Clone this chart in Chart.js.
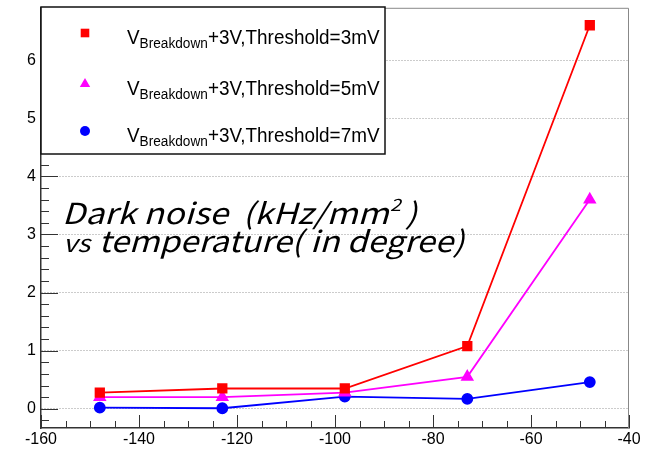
<!DOCTYPE html>
<html>
<head>
<meta charset="utf-8">
<script src="https://cdn.jsdelivr.net/npm/chart.js@4.4.1/dist/chart.umd.min.js"></script>
<style>
  html, body { margin: 0; padding: 0; background: #fff; }
</style>
</head>
<body>
<canvas id="myChart" width="661" height="449"></canvas>
<script>
// temperature in degree (C) and dark noise in kHz/mm2
const temperatures = [-148, -123, -98, -73, -48];
const threshold3mV = [0.28, 0.35, 0.35, 1.08, 6.6];
const threshold5mV = [0.2, 0.2, 0.28, 0.55, 3.6];
const threshold7mV = [0.02, 0.01, 0.21, 0.17, 0.46];
const seriesNames = ["+3V,Threshold=3mV", "+3V,Threshold=5mV", "+3V,Threshold=7mV"];
const xTickLabels = [-160, -140, -120, -100, -80, -60, -40];
const yTickLabels = [0, 1, 2, 3, 4, 5, 6];

const toPoints = (values) => values.map((v, i) => ({x: temperatures[i], y: v}));

const colors = ["#ff0000", "#ff00ff", "#0000ff"];
const styles = ["rect", "triangle", "circle"];
const radii = [6, 6, 5];

function drawMarker(ctx, style, color, x, y) {
    ctx.fillStyle = color;
    ctx.beginPath();
    if (style === "rect") {
        ctx.rect(x - 4.3, y - 4.3, 8.6, 8.6);
    } else if (style === "triangle") {
        ctx.moveTo(x, y - 6);
        ctx.lineTo(x + 5.2, y + 3);
        ctx.lineTo(x - 5.2, y + 3);
        ctx.closePath();
    } else {
        ctx.arc(x, y, 5, 0, Math.PI * 2);
    }
    ctx.fill();
}

// no extra padding from tick labels, so the plot frame sits where we want it
function noPadding(s) {
    s.paddingTop = 0;
    s.paddingBottom = 0;
    s.paddingLeft = 0;
    s.paddingRight = 0;
}

const decorations = {
    id: "decorations",
    afterDraw(chart) {
        const ctx = chart.ctx;
        const area = chart.chartArea;
        const xs = chart.scales.x;
        const ys = chart.scales.y;
        ctx.save();

        // top / right frame
        ctx.strokeStyle = "#888";
        ctx.lineWidth = 1;
        ctx.beginPath();
        ctx.moveTo(area.left, area.top + 0.5);
        ctx.lineTo(area.right - 0.5, area.top + 0.5);
        ctx.lineTo(area.right - 0.5, area.bottom);
        ctx.stroke();

        // inward ticks (ROOT style)
        ctx.strokeStyle = "#333";
        ctx.beginPath();
        for (let v = -160; v <= -40; v += 5) {
            const px = Math.round(xs.getPixelForValue(v)) + 0.5;
            const len = v % 20 === 0 ? 13 : 7;
            ctx.moveTo(px, area.bottom);
            ctx.lineTo(px, area.bottom - len);
        }
        for (let k = -1; k <= 34; k++) {
            const v = k * 0.2;
            const py = Math.round(ys.getPixelForValue(v)) + 0.5;
            if (py < area.top || py > area.bottom) continue;
            const len = k % 5 === 0 ? 17 : 8;
            ctx.moveTo(area.left, py);
            ctx.lineTo(area.left + len, py);
        }
        ctx.stroke();

        // legend box
        ctx.fillStyle = "#fff";
        ctx.fillRect(41, 7, 344, 147);
        ctx.strokeStyle = "#111";
        ctx.lineWidth = 1.5;
        ctx.strokeRect(41, 7, 344, 147);
        const rowY = [33, 84, 131];
        seriesNames.forEach((name, i) => {
            drawMarker(ctx, styles[i], colors[i], 85, rowY[i]);
            ctx.save();
            ctx.translate(127, rowY[i] + 11);
            ctx.scale(1.05, 1.12);
            ctx.fillStyle = "#000";
            ctx.textBaseline = "alphabetic";
            ctx.font = '18px "Liberation Sans"';
            ctx.fillText("V", 0, 0);
            let w = ctx.measureText("V").width;
            ctx.font = '13px "Liberation Sans"';
            ctx.fillText("Breakdown", w, 4);
            w += ctx.measureText("Breakdown").width;
            ctx.font = '18px "Liberation Sans"';
            ctx.fillText(name, w, 0);
            ctx.restore();
        });

        // title text inside the plot
        ctx.fillStyle = "#000";
        ctx.textBaseline = "alphabetic";
        const big = 'italic 29px "Noto Sans CJK KR"';
        ctx.save();
        ctx.translate(62, 224);
        ctx.scale(1.16, 1);
        ctx.font = big;
        const t1 = "Dark noise  (kHz/mm";
        ctx.fillText(t1, 0, 0);
        let x = ctx.measureText(t1).width;
        ctx.font = 'italic 17px "Noto Sans CJK KR"';
        ctx.fillText("2", x + 1, -13);
        x += ctx.measureText("2").width + 5;
        ctx.font = big;
        ctx.fillText(")", x, 0);
        ctx.restore();

        ctx.save();
        ctx.translate(63, 252);
        ctx.scale(1.14, 1);
        ctx.font = 'italic 24px "Noto Sans CJK KR"';
        ctx.fillText("vs", 0, 0);
        x = ctx.measureText("vs ").width + 2;
        ctx.font = big;
        ctx.fillText("temperature( in degree)", x, 0);
        ctx.restore();

        ctx.restore();
    }
};

const ctx = document.getElementById("myChart").getContext("2d");
new Chart(ctx, {
    type: "line",
    data: {
        datasets: [threshold3mV, threshold5mV, threshold7mV].map((vals, i) => ({
            label: "VBreakdown" + seriesNames[i],
            data: toPoints(vals),
            borderColor: colors[i],
            backgroundColor: colors[i],
            pointBackgroundColor: colors[i],
            pointBorderColor: colors[i],
            pointStyle: styles[i],
            pointRadius: radii[i],
            borderWidth: 1.8,
            tension: 0
        }))
    },
    options: {
        responsive: false,
        animation: false,
        layout: {
            padding: {top: 7, right: 32, left: 0, bottom: 0}
        },
        plugins: {
            legend: {display: false},
            tooltip: {enabled: false}
        },
        scales: {
            x: {
                type: "linear",
                min: -160,
                max: -40,
                afterBuildTicks: (s) => { s.ticks = xTickLabels.map((v) => ({value: v})); },
                afterFit: (s) => { s.height = 21; noPadding(s); },
                grid: {display: false, drawTicks: false},
                border: {display: true, color: "#333", width: 1.5},
                ticks: {
                    font: {family: "Liberation Sans", size: 16},
                    color: "#000",
                    padding: 2,
                    maxRotation: 0,
                    autoSkip: false
                }
            },
            y: {
                min: -0.33,
                max: 6.9,
                afterBuildTicks: (s) => { s.ticks = yTickLabels.map((v) => ({value: v})); },
                afterFit: (s) => { s.width = 41; noPadding(s); },
                grid: {color: "#999", lineWidth: 1, drawTicks: false},
                border: {display: true, color: "#333", width: 1.5, dash: [1, 2]},
                ticks: {
                    font: {family: "Liberation Sans", size: 16},
                    color: "#000",
                    padding: 5,
                    autoSkip: false
                }
            }
        }
    },
    plugins: [decorations]
});
</script>
</body>
</html>
